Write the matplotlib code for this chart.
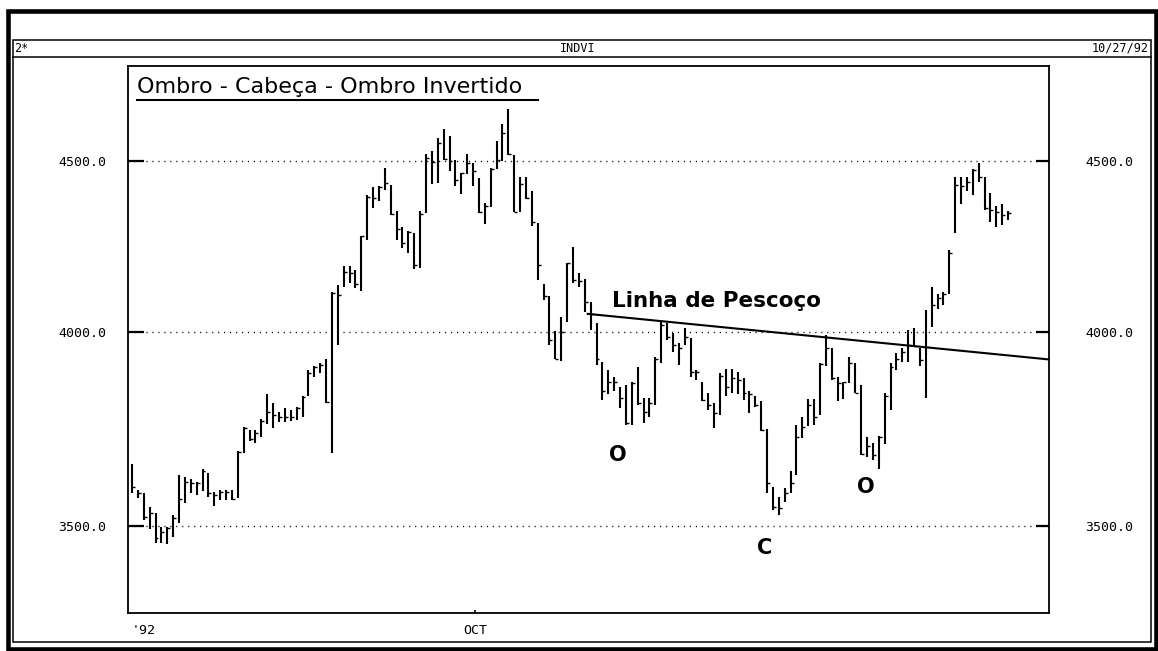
import matplotlib
matplotlib.use("Agg")
import matplotlib.pyplot as plt
from matplotlib.lines import Line2D
from matplotlib.patches import Rectangle
from matplotlib.ticker import FixedLocator, NullLocator, FixedFormatter
import numpy as np

# ---------------- data ----------------
highs = [
    3652, 3588, 3580, 3547, 3531, 3498, 3498, 3527, 3625, 3620,
    3616, 3608, 3640, 3629, 3584, 3588, 3588, 3588, 3685, 3748,
    3740, 3740, 3767, 3833, 3809, 3787, 3796, 3791, 3800, 3827,
    3897, 3908, 3915, 3928, 4113, 4132, 4186, 4186, 4176, 4275,
    4397, 4420, 4424, 4481, 4427, 4349, 4301, 4289, 4283, 4349,
    4523, 4531, 4573, 4602, 4579, 4505, 4465, 4523, 4494, 4448,
    4372, 4481, 4565, 4618, 4665, 4521, 4453, 4453, 4410, 4313,
    4135, 4102, 4004, 4043, 4196, 4242, 4167, 4150, 4085, 4025,
    3919, 3897, 3879, 3853, 3857, 3866, 3904, 3823, 3823, 3933,
    4032, 4025, 3997, 3970, 4013, 3983, 3897, 3866, 3837, 3809,
    3890, 3899, 3899, 3892, 3875, 3842, 3827, 3814, 3742, 3596,
    3571, 3592, 3634, 3752, 3774, 3820, 3820, 3916, 3993, 3958,
    3879, 3866, 3933, 3915, 3856, 3722, 3707, 3724, 3835, 3915,
    3942, 3956, 4006, 4011, 3956, 4062, 4127, 4108, 4113, 4233,
    4453, 4453, 4453, 4478, 4496, 4453, 4402, 4364, 4369, 4349,
]
lows = [
    3580, 3567, 3514, 3492, 3458, 3460, 3456, 3474, 3506, 3555,
    3580, 3575, 3586, 3571, 3549, 3563, 3563, 3563, 3567, 3680,
    3712, 3706, 3722, 3756, 3744, 3761, 3761, 3763, 3765, 3774,
    3827, 3879, 3888, 3809, 3680, 3965, 4127, 4138, 4125, 4116,
    4263, 4357, 4380, 4412, 4337, 4263, 4238, 4225, 4178, 4182,
    4343, 4430, 4433, 4505, 4470, 4424, 4400, 4461, 4424, 4343,
    4310, 4362, 4478, 4500, 4521, 4347, 4347, 4385, 4304, 4147,
    4090, 3965, 3926, 3922, 4029, 4138, 4127, 4057, 4006, 3910,
    3818, 3832, 3840, 3796, 3752, 3752, 3805, 3758, 3774, 3805,
    3915, 3979, 3947, 3910, 3965, 3879, 3871, 3816, 3791, 3744,
    3778, 3827, 3835, 3832, 3818, 3783, 3798, 3736, 3580, 3539,
    3527, 3559, 3580, 3625, 3718, 3750, 3752, 3778, 3908, 3871,
    3816, 3820, 3862, 3835, 3676, 3671, 3663, 3640, 3704, 3791,
    3897, 3919, 3919, 3960, 3908, 3823, 4015, 4064, 4076, 4108,
    4283, 4370, 4408, 4397, 4438, 4352, 4317, 4301, 4307, 4322,
]
closes = [
    3594, 3580, 3522, 3531, 3470, 3486, 3494, 3518, 3565, 3608,
    3604, 3604, 3634, 3580, 3575, 3584, 3582, 3565, 3682, 3744,
    3716, 3731, 3763, 3787, 3778, 3774, 3774, 3774, 3796, 3825,
    3890, 3904, 3911, 3811, 4110, 4104, 4170, 4168, 4135, 4273,
    4392, 4387, 4420, 4433, 4340, 4294, 4253, 4286, 4190, 4340,
    4510, 4498, 4557, 4507, 4502, 4443, 4463, 4494, 4470, 4347,
    4364, 4478, 4505, 4588, 4523, 4347, 4430, 4387, 4317, 4190,
    4101, 3979, 3928, 4002, 4196, 4147, 4143, 4085, 4052, 3928,
    3840, 3866, 3866, 3823, 3758, 3862, 3809, 3787, 3809, 3928,
    4020, 3988, 3965, 3956, 3988, 3892, 3892, 3818, 3805, 3783,
    3881, 3853, 3875, 3871, 3835, 3832, 3805, 3740, 3604, 3547,
    3543, 3580, 3604, 3722, 3748, 3805, 3774, 3913, 3956, 3875,
    3862, 3864, 3915, 3837, 3678, 3699, 3676, 3720, 3828, 3904,
    3926, 3946, 3965, 3962, 3924, 3960, 4076, 4095, 4108, 4225,
    4427, 4424, 4438, 4473, 4453, 4357, 4352, 4346, 4337, 4343,
]
y_ticks = [3500, 4000, 4500]
y_tick_labels = ["3500.0", "4000.0", "4500.0"]
x_tick_pos = [1.9, 58.3]
x_tick_labels = ["'92", "OCT"]
neck_x = [77.5, 157.0]
neck_y = [4051, 3924]

title = "Ombro - Cabeça - Ombro Invertido"
neck_label = "Linha de Pescoço"
header_left, header_mid, header_right = "2*", "INDVI", "10/27/92"

# ---------------- figure ----------------
W, H = 1158, 651
fig = plt.figure(figsize=(W / 100, H / 100), dpi=100)
fig.patch.set_facecolor("white")


def fx(px):
    return px / W


def fy(py):
    return 1 - py / H


mono = "DejaVu Sans Mono"

# outer frame (thick) and inner thin frame
fig.add_artist(Rectangle((fx(8), fy(648.5)), fx(1155.5) - fx(8), fy(10.5) - fy(648.5),
                         transform=fig.transFigure, fill=False, lw=3.3, ec="black"))
fig.add_artist(Rectangle((fx(12.5), fy(641.5)), fx(1151) - fx(12.5), fy(39.5) - fy(641.5),
                         transform=fig.transFigure, fill=False, lw=1.1, ec="black"))
fig.add_artist(Line2D([fx(12.5), fx(1151)], [fy(56.7), fy(56.7)],
                      transform=fig.transFigure, lw=1.1, color="black"))
fig.text(fx(14), fy(48), header_left, family=mono, fontsize=8.5, va="center", ha="left")
fig.text(fx(578), fy(48), header_mid, family=mono, fontsize=8.5, va="center", ha="center")
fig.text(fx(1149), fy(48), header_right, family=mono, fontsize=8.5, va="center", ha="right")

# main axes
ax = fig.add_axes([fx(128), fy(613), fx(1049) - fx(128), fy(66) - fy(613)])
ax.set_yscale("log")
x = np.arange(len(highs))
ax.vlines(x, lows, highs, colors="black", lw=1.5, zorder=3)
ax.hlines(closes, x, x + 0.5, colors="black", lw=1.0, zorder=3)

ax.plot(neck_x, neck_y, color="black", lw=1.5, zorder=3)

ax.set_xlim(-0.68, 155.95)
ax.set_ylim(3296, 4806)

for s in ax.spines.values():
    s.set_linewidth(1.3)

ax.yaxis.set_major_locator(FixedLocator(y_ticks))
ax.yaxis.set_major_formatter(FixedFormatter(y_tick_labels))
ax.yaxis.set_minor_locator(NullLocator())
ax.tick_params(axis="y", which="major", direction="in", length=11.5, width=1.6,
               pad=15.5, labelsize=9.5, left=True, right=False)
for lab in ax.get_yticklabels():
    lab.set_family(mono)

ax.grid(axis="y", which="major", color="black", lw=1.0, linestyle=(0, (0.8, 3.5)))

ax.xaxis.set_major_locator(FixedLocator(x_tick_pos))
ax.xaxis.set_major_formatter(FixedFormatter(x_tick_labels))
ax.tick_params(axis="x", which="major", direction="in", length=2.5, width=1.2,
               pad=8, labelsize=9.5)
for lab in ax.get_xticklabels():
    lab.set_family(mono)
ax.xaxis.get_major_ticks()[0].tick1line.set_visible(False)

# right axis labels / ticks
ax2 = ax.twinx()
ax2.set_yscale("log")
ax2.set_ylim(ax.get_ylim())
ax2.yaxis.set_major_locator(FixedLocator(y_ticks))
ax2.yaxis.set_major_formatter(FixedFormatter(y_tick_labels))
ax2.yaxis.set_minor_locator(NullLocator())
ax2.tick_params(axis="y", which="major", direction="in", length=9.2, width=1.6,
                pad=26, labelsize=9.5)
for lab in ax2.get_yticklabels():
    lab.set_family(mono)
for s in ax2.spines.values():
    s.set_visible(False)

# annotations
ax.text(0.0098, 0.951, title, transform=ax.transAxes, family="DejaVu Sans",
        fontsize=16, ha="left", va="baseline")
ax.add_line(Line2D([0.0098, 0.445], [0.937, 0.937], transform=ax.transAxes,
                   color="black", lw=1.5))
ax.text(0.5255, 0.559, neck_label, transform=ax.transAxes, family="DejaVu Sans",
        fontweight="bold", fontsize=15.5, ha="left", va="baseline")
ax.text(0.532, 0.289, "O", transform=ax.transAxes, family="DejaVu Sans",
        fontweight="bold", fontsize=15, ha="center", va="center")
ax.text(0.6916, 0.119, "C", transform=ax.transAxes, family="DejaVu Sans",
        fontweight="bold", fontsize=15, ha="center", va="center")
ax.text(0.801, 0.230, "O", transform=ax.transAxes, family="DejaVu Sans",
        fontweight="bold", fontsize=15, ha="center", va="center")

fig.savefig("out.png", dpi=100, facecolor="white")
